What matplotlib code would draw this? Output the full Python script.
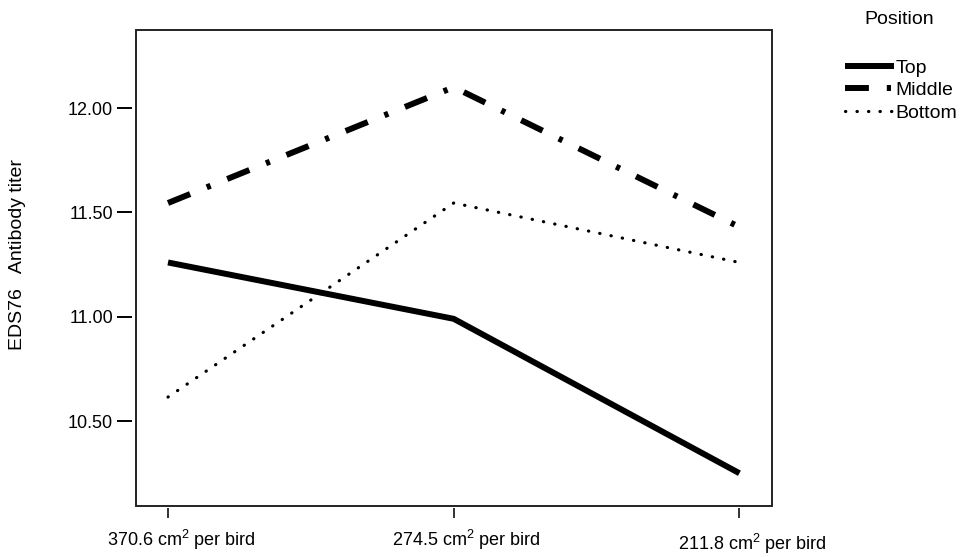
import matplotlib
matplotlib.use("Agg")
import matplotlib.pyplot as plt
from matplotlib.patches import Rectangle
from matplotlib.transforms import ScaledTranslation

categories = ["370.6 cm$^2$ per bird", "274.5 cm$^2$ per bird", "211.8 cm$^2$ per bird"]
top = [11.26, 10.99, 10.25]
middle = [11.545, 12.10, 11.43]
bottom = [10.615, 11.545, 11.26]
yticks = [10.50, 11.00, 11.50, 12.00]

plt.rcParams['font.family'] = ['Liberation Sans', 'DejaVu Sans']
plt.rcParams['mathtext.fontset'] = 'custom'
plt.rcParams['mathtext.rm'] = 'Liberation Sans'

W, H = 960, 557
fig = plt.figure(figsize=(9.6, 5.57), dpi=100)
L, R, T, B = 136, 772, 30, 506
ax = fig.add_axes([L/W, 1-B/H, (R-L)/W, (B-T)/H])

# spine positions first (this resets ticks)
for s in ax.spines.values():
    s.set_visible(False)
ax.spines['left'].set_position(('outward', 2.9))
ax.spines['bottom'].set_position(('outward', 1.4))

x = list(range(len(categories)))
ax.plot(x, top, color='black', lw=4.3, solid_capstyle='butt', label='Top')
ax.plot(x, middle, color='black', lw=4.3, linestyle=(0, (4, 3, 0.7, 3)),
        dash_capstyle='butt', label='Middle')
ax.plot(x, bottom, color='black', lw=2.3, linestyle=(0, (0.1, 3.5)),
        dash_capstyle='round', label='Bottom')

ax.set_xlim(-0.112, 2.114)
ax.set_ylim(10.093, 12.374)
ax.tick_params(axis='y', length=10.8, width=1.4, color='black', pad=2.9, labelsize=13)
ax.tick_params(axis='x', length=7.2, width=1.4, color='#333333', pad=7, labelsize=13)
ax.set_xticks(x)
ax.set_xticklabels(categories, fontsize=13)
ax.set_yticks(yticks)
ax.set_yticklabels([f"{v:.2f}" for v in yticks], fontsize=13)

# tick labels sit a little right of their ticks; last one slightly lower
for i, lbl in enumerate(ax.get_xticklabels()):
    dy = -4 if i == 2 else 0
    lbl.set_transform(lbl.get_transform() +
                      ScaledTranslation(13/100, dy/100, fig.dpi_scale_trans))

ax.add_patch(Rectangle((0, 0), 1, 1, transform=ax.transAxes, fill=False,
                       edgecolor='#222222', lw=1.4, clip_on=False))

fig.text(18/W, 1-255/H, "EDS76   Antibody titer", rotation=90, fontsize=14,
         ha='center', va='center')

fig.text(899/W, 1-20/H, "Position", fontsize=14, ha='center', va='center')
leg = fig.legend(loc='upper left', bbox_to_anchor=(845/W, 1-59/H), frameon=False,
                 fontsize=14, borderpad=0, borderaxespad=0,
                 handlelength=2.5, handletextpad=0.1, labelspacing=0.25)

fig.savefig("out.png", dpi=100)
